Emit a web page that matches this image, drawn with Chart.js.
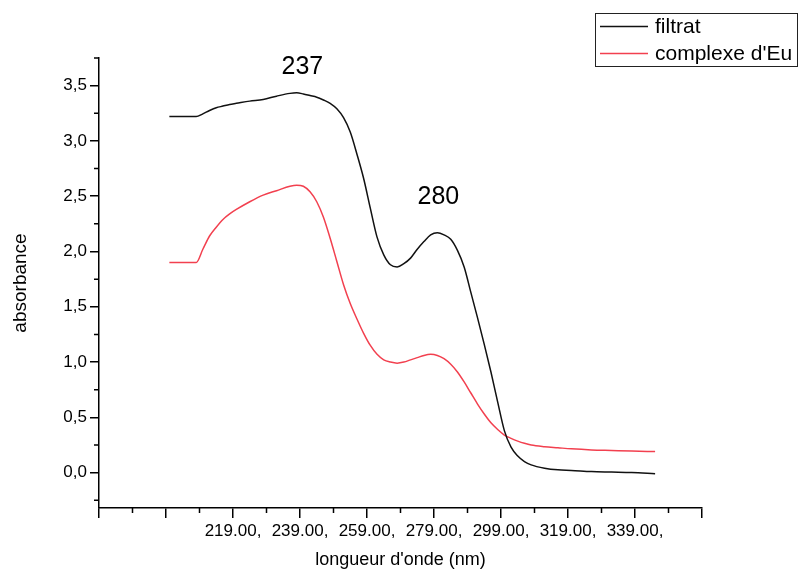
<!DOCTYPE html>
<html>
<head>
<meta charset="utf-8">
<script src="https://cdn.jsdelivr.net/npm/chart.js@4.4.1/dist/chart.umd.min.js"></script>
<style>
html,body{margin:0;padding:0;background:#fff;}
#wrap{width:799px;height:571px;position:relative;}
</style>
</head>
<body>
<div id="wrap"><canvas id="c" width="799" height="571"></canvas></div>
<script>
// ---- data ----
const wavelengths = [200,204,208,210,212,214,216,218,220,224,228,232,236,238,240,242,244,246,248,250,252,254,256,258,260,262,264,266,268,270,272,274,276,278,280,282,284,286,288,290,292,294,296,298,300,302,304,306,308,312,316,320,326,332,338,345];
const filtrat = [3.22,3.22,3.22,3.245,3.275,3.30,3.315,3.33,3.34,3.36,3.375,3.405,3.43,3.435,3.425,3.41,3.395,3.37,3.34,3.29,3.21,3.08,2.88,2.66,2.39,2.13,1.97,1.88,1.86,1.89,1.94,2.02,2.09,2.15,2.17,2.15,2.11,2.01,1.86,1.63,1.40,1.16,0.91,0.64,0.38,0.23,0.15,0.10,0.07,0.04,0.025,0.02,0.01,0.005,0.0,-0.01];
const complexeEu = [1.90,1.90,1.90,2.02,2.14,2.22,2.29,2.34,2.38,2.45,2.51,2.55,2.59,2.60,2.59,2.54,2.45,2.31,2.12,1.91,1.70,1.53,1.39,1.26,1.15,1.07,1.02,1.00,0.99,1.00,1.02,1.04,1.06,1.07,1.06,1.03,0.98,0.91,0.82,0.72,0.62,0.53,0.45,0.39,0.34,0.31,0.285,0.265,0.25,0.235,0.225,0.215,0.205,0.20,0.195,0.19];
const seriesNames = ['filtrat', "complexe d'Eu"];

const xTickValues = [179,199,219,239,259,279,299,319,339,359];
const xTickLabels = ['', '', '219.00,', '239.00,', '259.00,', '279.00,', '299.00,', '319.00,', '339.00,', ''];
const xMinorTicks = [189,209,229,249,269,289,309,329,349];
const yTickValues = [0,0.5,1,1.5,2,2.5,3,3.5];
const yTickLabels = ['0,0','0,5','1,0','1,5','2,0','2,5','3,0','3,5'];
const yMinorTicks = [-0.25,0.25,0.75,1.25,1.75,2.25,2.75,3.25,3.75];
const peakLabels = ['237','280'];
const peakAnchorX = [239.7, 280.3];
const peakAnchorY = [3.67, 2.49];

const FONT = '"Liberation Sans", Arial, Helvetica, sans-serif';
const BLACK = '#111111';
const RED = '#f2404f';

const toPts = (ys) => wavelengths.map((w, i) => ({x: w, y: ys[i]}));

const extras = {
  id: 'extras',
  afterDraw(chart) {
    const ctx = chart.ctx, xs = chart.scales.x, ys = chart.scales.y, a = chart.chartArea;
    ctx.save();
    // minor ticks
    ctx.strokeStyle = '#000';
    ctx.lineWidth = 1.5;
    ctx.beginPath();
    xMinorTicks.forEach(v => {
      const px = xs.getPixelForValue(v);
      ctx.moveTo(px, a.bottom); ctx.lineTo(px, a.bottom + 5);
    });
    yMinorTicks.forEach(v => {
      const py = ys.getPixelForValue(v);
      ctx.moveTo(a.left, py); ctx.lineTo(a.left - 5, py);
    });
    ctx.stroke();
    // peak labels
    ctx.fillStyle = '#000';
    ctx.font = '25px ' + FONT;
    ctx.textAlign = 'center';
    ctx.textBaseline = 'middle';
    peakLabels.forEach((t, i) => {
      ctx.fillText(t, xs.getPixelForValue(peakAnchorX[i]), ys.getPixelForValue(peakAnchorY[i]));
    });
    // legend box
    ctx.lineWidth = 1;
    ctx.strokeStyle = '#222';
    ctx.strokeRect(595.5, 13.5, 202, 53);
    ctx.font = '21px ' + FONT;
    ctx.textAlign = 'left';
    chart.data.datasets.forEach((ds, i) => {
      const y = 26.5 + i * 27;
      ctx.strokeStyle = ds.borderColor;
      ctx.lineWidth = 1.3;
      ctx.beginPath(); ctx.moveTo(600, y); ctx.lineTo(648, y); ctx.stroke();
      ctx.fillStyle = '#000';
      ctx.fillText(ds.label, 655, y + 1);
    });
    ctx.restore();
  }
};

new Chart(document.getElementById('c'), {
  type: 'line',
  data: {
    datasets: [
      {label: seriesNames[0], data: toPts(filtrat), borderColor: BLACK, borderWidth: 1.5, pointRadius: 0, cubicInterpolationMode: 'monotone', fill: false},
      {label: seriesNames[1], data: toPts(complexeEu), borderColor: RED, borderWidth: 1.5, pointRadius: 0, cubicInterpolationMode: 'monotone', fill: false}
    ]
  },
  options: {
    responsive: false,
    animation: false,
    devicePixelRatio: 1,
    layout: {padding: {top: 58, right: 97, left: 0, bottom: 0}},
    plugins: {legend: {display: false}, tooltip: {enabled: false}, title: {display: false}},
    scales: {
      x: {
        type: 'linear', min: 179, max: 359,
        afterBuildTicks: s => { s.ticks = xTickValues.map(v => ({value: v})); },
        afterFit: s => { s.height = 63; },
        ticks: {autoSkip: false, maxRotation: 0, minRotation: 0, padding: 3, color: '#000',
          font: {family: FONT, size: 17}, callback: (v, i) => xTickLabels[i]},
        grid: {display: true, drawOnChartArea: false, drawTicks: true, tickLength: 10, color: '#000', lineWidth: 1.5},
        border: {display: true, color: '#000', width: 1.5},
        title: {display: true, text: "longueur d'onde (nm)", color: '#000', font: {family: FONT, size: 18}, padding: {top: 2, bottom: 0}}
      },
      y: {
        type: 'linear', min: -0.32, max: 3.75,
        afterBuildTicks: s => { s.ticks = yTickValues.map(v => ({value: v})); },
        afterFit: s => { s.width = 99; },
        ticks: {autoSkip: false, padding: 3, color: '#000',
          font: {family: FONT, size: 17}, callback: (v, i) => yTickLabels[i]},
        grid: {display: true, drawOnChartArea: false, drawTicks: true, tickLength: 9, color: '#000', lineWidth: 1.5},
        border: {display: true, color: '#000', width: 1.5},
        title: {display: true, text: 'absorbance', color: '#000', font: {family: FONT, size: 19}, padding: {top: 9, bottom: 0}}
      }
    }
  },
  plugins: [extras]
});
</script>
</body>
</html>
